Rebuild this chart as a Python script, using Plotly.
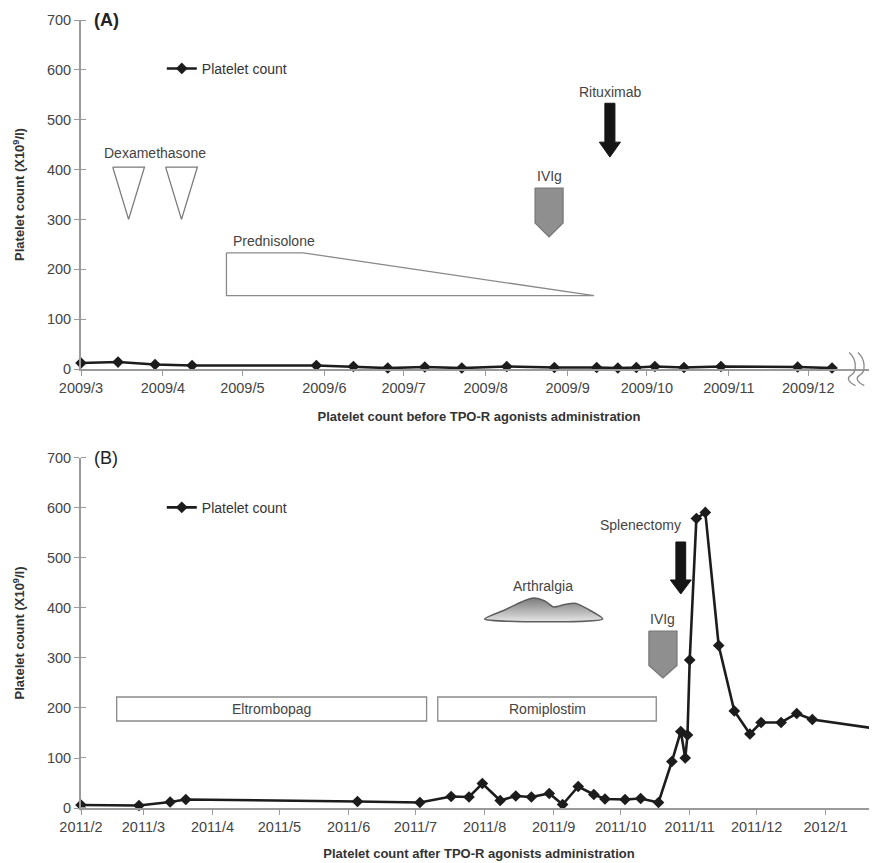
import pandas as pd
import plotly.graph_objects as go

# ---------------- data ----------------
dates_a = ["2009-03-01", "2009-03-15", "2009-03-29", "2009-04-12", "2009-05-29",
           "2009-06-12", "2009-06-25", "2009-07-09", "2009-07-23", "2009-08-09",
           "2009-08-27", "2009-09-12", "2009-09-20", "2009-09-27", "2009-10-04",
           "2009-10-15", "2009-10-29", "2009-11-27", "2009-12-10"]
platelets_a = [12, 14, 9, 7, 7, 5, 2, 4, 2, 5, 3, 3, 2, 3, 5, 3, 5, 4, 2]

dates_b = ["2011-02-01", "2011-02-27", "2011-03-13", "2011-03-20", "2011-06-05",
           "2011-07-03", "2011-07-17", "2011-07-25", "2011-07-31", "2011-08-08",
           "2011-08-15", "2011-08-22", "2011-08-30", "2011-09-05", "2011-09-12",
           "2011-09-19", "2011-09-24", "2011-10-03", "2011-10-10", "2011-10-18",
           "2011-10-24", "2011-10-28", "2011-10-30", "2011-10-31", "2011-11-01",
           "2011-11-04", "2011-11-08", "2011-11-14", "2011-11-21", "2011-11-28",
           "2011-12-03", "2011-12-12", "2011-12-19", "2011-12-26", "2012-01-23"]
platelets_b = [6, 5, 12, 17, 13, 11, 23, 22, 49, 15, 24, 22, 29, 7, 43, 27, 18, 17, 19, 11,
               93, 153, 100, 146, 296, 579, 591, 325, 194, 148, 171, 171, 189, 177, 159]

tick_dates_a = ["2009-03-01", "2009-04-01", "2009-05-01", "2009-06-01", "2009-07-01",
                "2009-08-01", "2009-09-01", "2009-10-01", "2009-11-01", "2009-12-01"]
tick_labels_a = ["2009/3", "2009/4", "2009/5", "2009/6", "2009/7",
                 "2009/8", "2009/9", "2009/10", "2009/11", "2009/12"]
tick_dates_b = ["2011-02-01", "2011-03-01", "2011-04-01", "2011-05-01", "2011-06-01",
                "2011-07-01", "2011-08-01", "2011-09-01", "2011-10-01", "2011-11-01",
                "2011-12-01", "2012-01-01"]
tick_labels_b = ["2011/2", "2011/3", "2011/4", "2011/5", "2011/6", "2011/7",
                 "2011/8", "2011/9", "2011/10", "2011/11", "2011/12", "2012/1"]
y_ticks = [0, 100, 200, 300, 400, 500, 600, 700]

# treatment events
dexa_pulses = [("2009-03-13", "2009-03-25"), ("2009-04-02", "2009-04-14")]
prednisolone = ("2009-04-25", "2009-05-24", "2009-09-11")
ivig_a_date = "2009-08-25"
rituximab_date = "2009-09-17"
eltrombopag = ("2011-02-17", "2011-07-06")
romiplostim = ("2011-07-11", "2011-10-17")
arthralgia = ("2011-08-01", "2011-09-23")
ivig_b_date = "2011-10-20"
splenectomy_date = "2011-10-28"

# ---------------- helpers ----------------
FONT = "Liberation Sans, Arial, sans-serif"
TXT = "#444444"
AX = "#9a9a9a"


def shift(d, days):
    return (pd.Timestamp(d) + pd.Timedelta(days=days)).strftime("%Y-%m-%d %H:%M")


def mid(s, e):
    a, b = pd.Timestamp(s), pd.Timestamp(e)
    return (a + (b - a) / 2).strftime("%Y-%m-%d %H:%M")


def poly(xs, ys, xa, ya, fill, line, width=1.2, **kw):
    return go.Scatter(x=xs, y=ys, mode="lines", fill="toself", fillcolor=fill,
                      line=dict(color=line, width=width), xaxis=xa, yaxis=ya,
                      hoverinfo="skip", showlegend=False, **kw)


def pentagon(c, half, top, shoulder, tip, xa, ya):
    xs = [shift(c, -half), shift(c, half), shift(c, half), c, shift(c, -half), shift(c, -half)]
    ys = [top, top, shoulder, tip, shoulder, top]
    return poly(xs, ys, xa, ya, "#8f8f8f", "#767676", 1.2)


def arrow(c, sw, hw, top, hs, tip, xa, ya):
    xs = [shift(c, -sw), shift(c, sw), shift(c, sw), shift(c, hw), c,
          shift(c, -hw), shift(c, -sw), shift(c, -sw)]
    ys = [top, top, hs, hs, tip, hs, hs, top]
    return poly(xs, ys, xa, ya, "#151515", "#151515", 1)


fig = go.Figure()

# ---------------- panel A glyphs ----------------
for s, e in dexa_pulses:
    fig.add_trace(poly([s, e, mid(s, e), s], [405, 405, 300, 405], "x", "y",
                       "white", "#7a7a7a", 1.3))
p0, p1, p2 = prednisolone
fig.add_trace(poly([p0, p1, p2, p0, p0], [233, 233, 147, 147, 233], "x", "y",
                   "white", "#8a8a8a", 1.3))
fig.add_trace(pentagon(ivig_a_date, 5.3, 363, 293, 265, "x", "y"))
fig.add_trace(arrow(rituximab_date, 1.9, 4.0, 533, 455, 425, "x", "y"))

# ---------------- panel B glyphs ----------------
fig.add_trace(pentagon(ivig_b_date, 6.3, 354, 285, 260, "x2", "y2"))
fig.add_trace(arrow(splenectomy_date, 2.2, 4.7, 532, 456, 428, "x2", "y2"))
a0, a1 = arthralgia
mx = [a0, shift(a0, 9), shift(a0, 17), shift(a0, 22), shift(a0, 27), shift(a0, 31),
      shift(a0, 36), shift(a0, 41), shift(a0, 47), a1, a0]
my = [378, 396, 413, 420, 414, 402, 407, 409, 396, 378, 378]
fig.add_trace(go.Scatter(x=mx, y=my, mode="lines", fill="toself",
                         fillgradient=dict(type="vertical",
                                           colorscale=[[0, "#e6e6e6"], [1, "#7a7a7a"]]),
                         line=dict(color="#5e5e5e", width=1.5, shape="spline", smoothing=0.7),
                         xaxis="x2", yaxis="y2", hoverinfo="skip", showlegend=False))

# ---------------- data traces ----------------
fig.add_trace(go.Scatter(x=dates_a, y=platelets_a, mode="lines+markers", name="Platelet count",
                         line=dict(color="#1c1c1c", width=2.6),
                         marker=dict(symbol="diamond", size=9, color="#1c1c1c"),
                         xaxis="x", yaxis="y", legend="legend", cliponaxis=False))
fig.add_trace(go.Scatter(x=dates_b, y=platelets_b, mode="lines+markers", name="Platelet count",
                         line=dict(color="#1c1c1c", width=2.6),
                         marker=dict(symbol="diamond", size=9, color="#1c1c1c"),
                         xaxis="x2", yaxis="y2", legend="legend2", cliponaxis=False))

# ---------------- shapes (boxes, axis break) ----------------
shapes = []
for (s, e) in (eltrombopag, romiplostim):
    shapes.append(dict(type="rect", xref="x2", yref="y2", x0=s, x1=e, y0=174, y1=222,
                       line=dict(color="#8a8a8a", width=1.3), fillcolor="white", layer="below"))
for bx in (0.969, 0.980):
    yt, yb = 0.578, 0.536
    ym = (yt + yb) / 2
    shapes.append(dict(type="path", xref="paper", yref="paper",
                       path=(f"M {bx-0.004} {yt} C {bx+0.006} {ym+0.012} {bx+0.006} {ym-0.004} "
                             f"{bx-0.002} {ym-0.008} C {bx-0.008} {ym-0.012} {bx-0.004} {yb+0.004} "
                             f"{bx+0.004} {yb}"),
                       line=dict(color="#8a8a8a", width=1.3)))

# ---------------- annotations ----------------
def lab(text, x, y, xa, ya, size=14, bold=False, xanchor="center", color=TXT):
    t = f"<b>{text}</b>" if bold else text
    return dict(text=t, x=x, y=y, xref=xa, yref=ya, showarrow=False, xanchor=xanchor,
                yanchor="middle", font=dict(family=FONT, size=size, color=color))

annotations = [
    lab("(A)", "2009-03-05", 700, "x", "y", size=18, bold=True, xanchor="left", color="#222"),
    lab("Dexamethasone", "2009-03-29", 433, "x", "y"),
    lab("Prednisolone", "2009-05-13", 257, "x", "y"),
    lab("IVIg", ivig_a_date, 388, "x", "y"),
    lab("Rituximab", rituximab_date, 556, "x", "y"),
    lab("(B)", "2011-02-06", 700, "x2", "y2", size=18, xanchor="left", color="#222"),
    lab("Eltrombopag", mid(*eltrombopag), 198, "x2", "y2"),
    lab("Romiplostim", mid(*romiplostim), 198, "x2", "y2"),
    lab("Arthralgia", "2011-08-27", 443, "x2", "y2"),
    lab("Splenectomy", "2011-10-10", 566, "x2", "y2"),
    lab("IVIg", ivig_b_date, 378, "x2", "y2"),
]

# ---------------- axes ----------------
def xaxis(rng, tv, tt, title, anchor, standoff):
    return dict(type="date", range=rng, tickmode="array", tickvals=tv, ticktext=tt,
                ticks="outside", ticklen=5, tickwidth=1.3, tickcolor=AX,
                showline=True, linecolor=AX, linewidth=2, showgrid=False, zeroline=False,
                tickfont=dict(family=FONT, size=14.5, color=TXT), anchor=anchor,
                automargin=False,
                title=dict(text=f"<b>{title}</b>", standoff=standoff,
                           font=dict(family=FONT, size=13, color="#333")))


def yaxis(domain, anchor):
    return dict(domain=domain, range=[0, 700], tickmode="array", tickvals=y_ticks,
                ticks="outside", ticklen=5, tickwidth=1.3, tickcolor=AX,
                minor=dict(ticks="inside", ticklen=5, tickwidth=1.3, tickcolor=AX,
                           tickmode="array", tickvals=[v + 0.01 for v in y_ticks]),
                showline=True, linecolor=AX, linewidth=2, showgrid=False, zeroline=False,
                tickfont=dict(family=FONT, size=14.5, color=TXT), anchor=anchor,
                automargin=False,
                title=dict(text="<b>Platelet count (X10<sup>9</sup>/l)</b>", standoff=19,
                           font=dict(family=FONT, size=13, color="#333")))


fig.update_layout(
    template="none",
    width=869, height=855,
    margin=dict(l=73, r=0, t=12, b=55),
    paper_bgcolor="white", plot_bgcolor="white",
    font=dict(family=FONT, color=TXT),
    xaxis=xaxis(["2009-03-01", "2009-12-27"], tick_dates_a, tick_labels_a,
                "Platelet count before TPO-R agonists administration", "y", 16),
    yaxis=yaxis([0.5571, 1.0], "x"),
    xaxis2=xaxis(["2011-02-01", "2012-01-24"], tick_dates_b, tick_labels_b,
                 "Platelet count after TPO-R agonists administration", "y2", 14),
    yaxis2=yaxis([0.0, 0.4442], "x2"),
    legend=dict(x=0.1015, y=0.938, xanchor="left", yanchor="middle",
                bgcolor="rgba(0,0,0,0)", font=dict(family=FONT, size=14, color="#333")),
    legend2=dict(x=0.1015, y=0.381, xanchor="left", yanchor="middle",
                 bgcolor="rgba(0,0,0,0)", font=dict(family=FONT, size=14, color="#333")),
    shapes=shapes,
    annotations=annotations,
    showlegend=True,
    hovermode=False,
)

fig.write_html("out.html")
